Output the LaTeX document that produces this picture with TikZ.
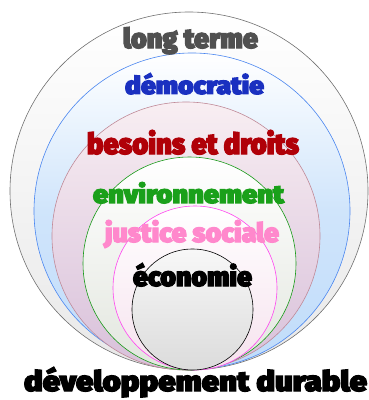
\documentclass[tikz,border=0pt]{standalone}
\usepackage{fontspec}
\usepackage{graphicx}
\newfontfamily\heavy{Fira Sans Black}[FakeBold=4]
\newcommand\fitword[3]{\resizebox{#1pt}{#2pt}{\heavy #3}}
\definecolor{cgrey}{HTML}{707070}
\definecolor{cblue}{HTML}{4A86F0}
\definecolor{cmauve}{HTML}{C08A98}
\definecolor{cgreen}{HTML}{189A18}
\definecolor{cpink}{HTML}{FF44F0}
\definecolor{tgrey}{HTML}{505050}
\definecolor{tblue}{HTML}{1A30C0}
\definecolor{tred}{HTML}{B00008}
\definecolor{tgreen}{HTML}{1AA01A}
\definecolor{tpink}{HTML}{FF88CC}
\definecolor{fblue}{HTML}{C0DCFA}
\definecolor{fmauve}{HTML}{D8C0DA}
\definecolor{fmauvetop}{HTML}{F8EEF2}
\definecolor{fgreen}{HTML}{E2E6DE}
\definecolor{fpink}{HTML}{F6E2EE}
\begin{document}
\begin{tikzpicture}[x=1pt,y=1pt,
  ring/.style={circle,inner sep=0pt,line width=0.6pt},
  word/.style={anchor=base,inner sep=0pt}]
\useasboundingbox (0,0) rectangle (369,400);
\node[ring,draw=cgrey,top color=white,bottom color=black!9,minimum size=358pt] (c1) at (189,209) {};
\node[ring,draw=cblue,top color=white,bottom color=fblue,middle color=fblue!75,minimum size=316pt] (c2) at (192,189) {};
\node[ring,draw=cmauve,top color=fmauvetop,bottom color=fmauve,minimum size=268pt] (c3) at (186,164) {};
\node[ring,draw=cgreen,top color=white,bottom color=fgreen,minimum size=213pt] (c4) at (189.5,136.5) {};
\node[ring,draw=cpink,top color=white,bottom color=fpink,minimum size=164pt] (c5) at (195,112) {};
\node[ring,draw=black,top color=black!3,bottom color=black!14,minimum size=121pt] (c6) at (192.5,90.5) {};
\node[word,text=tgrey] (t1) at (190.5,352) {\fitword{135}{21}{long terme}};
\node[word,text=tblue] (t2) at (194.5,306) {\fitword{139}{21}{démocratie}};
\node[word,text=tred] (t3) at (193,246) {\fitword{212}{24}{besoins et droits}};
\node[word,text=tgreen] (t4) at (188.5,197) {\fitword{191}{21}{environnement}};
\node[word,text=tpink] (t5) at (192,158) {\fitword{174}{22}{justice sociale}};
\node[word,text=black] (t6) at (192.5,114) {\fitword{119}{23}{économie}};
\node[word,text=black] (t7) at (195.5,9) {\fitword{343}{24}{développement durable}};
\end{tikzpicture}
\end{document}
